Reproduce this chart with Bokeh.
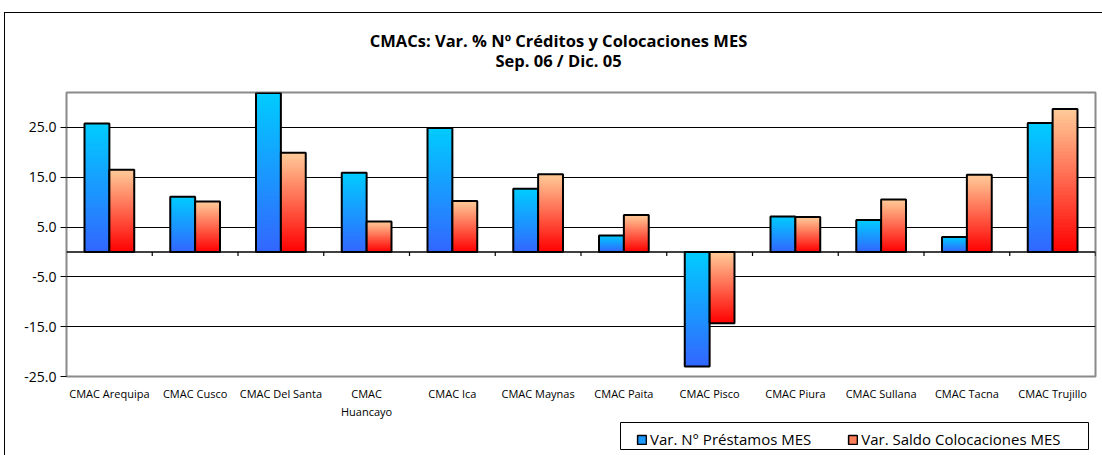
from bokeh.plotting import figure
from bokeh.layouts import column
from bokeh.models import (FixedTicker, Legend, LegendItem, Span)
from bokeh.core.properties import value
from bokeh.embed import file_html
from bokeh.resources import INLINE

# ---- data ----
categories = ["CMAC Arequipa", "CMAC Cusco", "CMAC Del Santa", "CMAC\nHuancayo", "CMAC Ica",
              "CMAC Maynas", "CMAC Paita", "CMAC Pisco", "CMAC Piura", "CMAC Sullana",
              "CMAC Tacna", "CMAC Trujillo"]
prestamos = [25.8, 11.1, 31.9, 15.9, 24.9, 12.7, 3.3, -23.0, 7.1, 6.4, 3.0, 25.9]
colocaciones = [16.5, 10.1, 19.9, 6.1, 10.2, 15.6, 7.4, -14.3, 7.0, 10.5, 15.5, 28.7]
series_names = ["Var. N° Préstamos MES", "Var. Saldo Colocaciones MES"]
title_lines = ["CMACs: Var. % Nº Créditos y Colocaciones MES", "Sep. 06 / Dic. 05"]
y_ticks = [-25, -15, -5, 5, 15, 25]

BLUE_TOP, BLUE_BOT = (0x00, 0xCC, 0xFF), (0x33, 0x66, 0xFF)
ORG_TOP, ORG_BOT = (0xFF, 0xCC, 0x99), (0xFF, 0x00, 0x00)
FONT = "Open Sans"
BAR_W = 0.29
W = 1102
ML, MR = 66, 7

def strip(h):
    f = figure(width=W, height=h, output_backend="svg", toolbar_location=None,
               x_range=(ML, W - MR), y_range=(h, 0), x_axis_location=None, y_axis_location=None,
               title_location=None, min_border_left=ML, min_border_right=MR,
               min_border_top=0, min_border_bottom=0)
    f.grid.grid_line_color = None
    f.outline_line_color = None
    f.border_fill_color = None
    f.background_fill_color = None
    return f

# ---- title strip ----
top = strip(80)
top.text(x=[558, 558], y=[40, 60], text=title_lines, text_align="center", text_baseline="middle",
         text_font=value(FONT), text_font_style="bold", text_font_size="16.5px", text_color="black")

# ---- main chart ----
p = figure(width=W, height=341, output_backend="svg", toolbar_location=None, title_location=None,
           x_range=(0, len(categories)), y_range=(-25, 32),
           min_border_left=ML, min_border_right=MR, min_border_top=12, min_border_bottom=44)
p.border_fill_color = None
p.background_fill_color = "white"

def hexc(c):
    return "#%02x%02x%02x" % c

def gradient_bars(values, side, top_c, bot_c, n=40):
    lefts = [i + 0.5 - BAR_W if side < 0 else i + 0.5 for i in range(len(values))]
    rights = [l + BAR_W for l in lefts]
    L, R, T, B, C = [], [], [], [], []
    for i, v in enumerate(values):
        tp, bt = max(v, 0), min(v, 0)
        h = (tp - bt) / n
        for k in range(n):
            t = (k + 0.5) / n
            c = tuple(int(round(top_c[j] + (bot_c[j] - top_c[j]) * t)) for j in range(3))
            L.append(lefts[i]); R.append(rights[i])
            T.append(tp - k * h)
            B.append(bt)
            C.append(hexc(c))
    p.quad(left=L, right=R, top=T, bottom=B, fill_color=C, line_color=None)
    p.quad(left=lefts, right=rights, top=[max(v, 0) for v in values], bottom=[min(v, 0) for v in values],
           fill_alpha=0, line_color="black", line_width=2)

p.xgrid.grid_line_color = None
p.ygrid.ticker = FixedTicker(ticks=y_ticks)
p.ygrid.grid_line_color = "black"
p.ygrid.grid_line_width = 1

gradient_bars(prestamos, -1, BLUE_TOP, BLUE_BOT)
gradient_bars(colocaciones, 1, ORG_TOP, ORG_BOT)

p.add_layout(Span(location=0, dimension="width", line_color="black", line_width=1.5))
bounds = list(range(1, len(categories) + 1))
p.segment(x0=bounds, x1=bounds, y0=[0] * len(bounds), y1=[-0.8] * len(bounds),
          line_color="black", line_width=1.2)

p.yaxis.ticker = FixedTicker(ticks=y_ticks)
p.yaxis.major_label_overrides = {t: "%.1f" % t for t in y_ticks}
p.yaxis.axis_line_color = None
p.yaxis.major_tick_in = 0
p.yaxis.major_tick_out = 6
p.yaxis.minor_tick_line_color = None
p.yaxis.major_label_text_font = FONT
p.yaxis.major_label_text_font_size = "14px"
p.yaxis.major_label_text_color = "black"
p.yaxis.major_label_standoff = 4

xt = [i + 0.5 for i in range(len(categories))]
p.xaxis.ticker = FixedTicker(ticks=xt)
p.xaxis.major_label_overrides = {x: c for x, c in zip(xt, categories)}
p.xaxis.axis_line_color = None
p.xaxis.major_tick_line_color = None
p.xaxis.minor_tick_line_color = None
p.xaxis.major_label_text_font = FONT
p.xaxis.major_label_text_font_size = "11px"
p.xaxis.major_label_text_color = "black"
p.xaxis.major_label_standoff = 3

p.outline_line_color = "#8a8a8a"
p.outline_line_width = 2

# ---- legend strip ----
lg = strip(34)
lg.quad(left=[620], right=[1088], top=[1], bottom=[28], fill_color="white",
        line_color="black", line_width=1)
r1 = lg.quad(left=[-10], right=[-9], top=[-10], bottom=[-9], fill_color="#1a99ff",
             line_color="black", line_width=1.5)
r2 = lg.quad(left=[-10], right=[-9], top=[-10], bottom=[-9], fill_color="#ff7f5a",
             line_color="black", line_width=1.5)
legend = Legend(items=[LegendItem(label=series_names[0], renderers=[r1]),
                       LegendItem(label=series_names[1], renderers=[r2])],
                orientation="horizontal", location=(640 - ML - 4, 6),
                label_text_font=FONT, label_text_font_size="15px", label_text_color="black",
                glyph_width=11, glyph_height=11, label_standoff=3, spacing=36,
                padding=4, margin=0, border_line_color=None, background_fill_alpha=0)
lg.add_layout(legend, "center")

layout = column(top, p, lg, spacing=0)
layout.styles = {
    "background": "linear-gradient(#000,#000) 4px 12px / 1px calc(100% - 12px) no-repeat, "
                  "linear-gradient(#000,#000) 4px 12px / calc(100% - 4px) 1px no-repeat, #fff"
}
open("out.html", "w").write(file_html(layout, INLINE))
